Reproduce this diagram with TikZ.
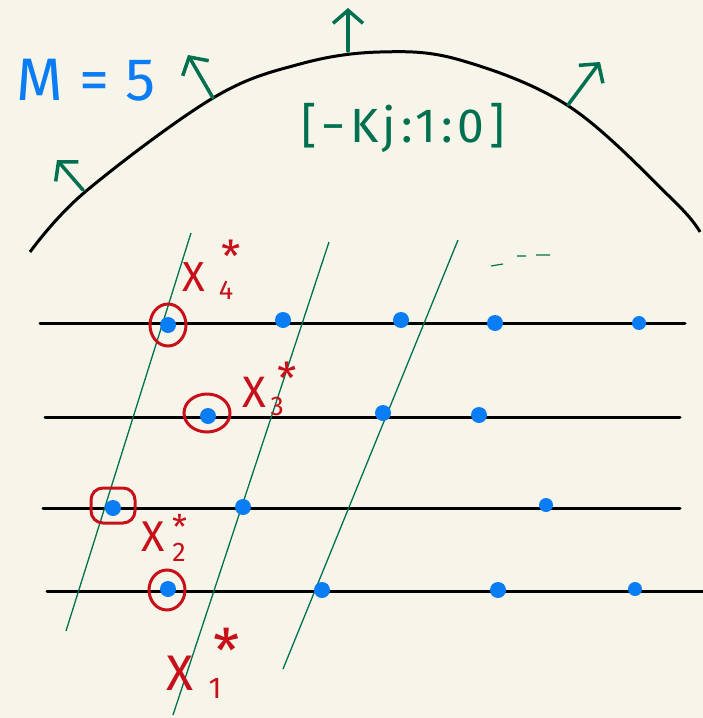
\documentclass[tikz,border=0pt]{standalone}
\usepackage{fontspec}
\setmainfont{Fira Sans}
\newfontfamily\spacedfont[LetterSpace=10]{Fira Sans}
\usetikzlibrary{arrows.meta}
\definecolor{bgc}{HTML}{F7F5E9}
\definecolor{pblue}{RGB}{10,125,245}
\definecolor{pgreen}{RGB}{0,112,80}
\definecolor{pred}{RGB}{200,16,26}
\tikzset{
  hline/.style={line width=3pt,black,line cap=round},
  gline/.style={line width=1.3pt,pgreen},
  normal/.style={line width=3.5pt,pgreen,line cap=round,-{Straight Barb[length=13pt,width=30pt,line width=3.5pt]}},
  pt/.style={circle,fill=pblue,inner sep=0pt,minimum size=16pt},
  ring/.style={draw=pred,line width=3pt},
  rtext/.style={text=pred,inner sep=0pt},
}
\begin{document}
\begin{tikzpicture}[x=1pt,y=-1pt]
\useasboundingbox (0,0) rectangle (703,718);
\fill[bgc] (0,0) rectangle (703,718);
% arc
\draw[line width=3pt] plot[smooth,tension=0.6] coordinates {(30,252) (85,192) (213,98) (300,64) (380,52) (460,60) (570,107) (673,200) (700,232)};
% normal arrows
\coordinate (a1s) at (83,190); \coordinate (a1e) at (57,160);
\coordinate (a2s) at (213,98); \coordinate (a2e) at (188,55);
\coordinate (a3s) at (348,51); \coordinate (a3e) at (348,8);
\coordinate (a4s) at (568,105); \coordinate (a4e) at (600,62);
\draw[normal] (a1s) -- (a1e);
\draw[normal] (a2s) -- (a2e);
\draw[normal] (a3s) -- (a3e);
\draw[normal] (a4s) -- (a4e);
% texts
\node[text=pblue,font=\fontsize{60}{64}\selectfont] (M) at (86,80) {M = 5};
\node[text=pgreen,font=\spacedfont\fontsize{48}{52}\selectfont] (sig) at (403,128) {[−Kj:1:0]};
% small dashes
\draw[pgreen,line width=1.2pt] (491,266) -- (503,264) (517,256) -- (526,256) (536,255) -- (550,255);
% horizontal lines
\coordinate (r1a) at (40,323); \coordinate (r1b) at (685,323);
\coordinate (r2a) at (45,417); \coordinate (r2b) at (680,417);
\coordinate (r3a) at (43,508); \coordinate (r3b) at (680,508);
\coordinate (r4a) at (47,591); \coordinate (r4b) at (703,591);
\draw[hline] (r1a) -- (r1b);
\draw[hline] (r2a) -- (r2b);
\draw[hline] (r3a) -- (r3b);
\draw[hline] (r4a) -- (r4b);
% green slanted lines
\coordinate (ga) at (191,233); \coordinate (gb) at (66,631);
\coordinate (gc) at (329,242); \coordinate (gd) at (173,715);
\coordinate (ge) at (458,240); \coordinate (gf) at (283,669);
\draw[gline] (ga) -- (gb);
\draw[gline] (gc) -- (gd);
\draw[gline] (ge) -- (gf);
% dots
\node[pt] (p11) at (168,325) {};
\node[pt] (p12) at (283,320) {};
\node[pt] (p13) at (401,320) {};
\node[pt] (p14) at (495,323) {};
\node[pt,minimum size=14pt] (p15) at (639,323) {};
\node[pt] (p21) at (208,416) {};
\node[pt] (p22) at (383,413) {};
\node[pt] (p23) at (479,415) {};
\node[pt] (p31) at (113,508) {};
\node[pt] (p32) at (243,507) {};
\node[pt,minimum size=14pt] (p33) at (546,505) {};
\node[pt] (p41) at (168,589) {};
\node[pt] (p42) at (322,590) {};
\node[pt] (p43) at (498,590) {};
\node[pt,minimum size=14pt] (p44) at (635,589) {};
% red rings
\draw[ring] (p11) ellipse [x radius=18pt,y radius=21pt];
\draw[ring] (p21.center) ++(-1,-3) ellipse [x radius=23pt,y radius=19pt];
\draw[ring,rounded corners=12pt] (91,488) rectangle (135,523);
\draw[ring] (p41.center) ++(-1,1) ellipse [x radius=18pt,y radius=20pt];
% labels x4*
\node[rtext,font=\fontsize{42}{44}\selectfont] (x4) at (194,277) {X};
\node[rtext,font=\fontsize{27}{29}\selectfont] (x4s) at (226,290) {4};
\node[rtext,font=\fontsize{44}{46}\selectfont] (x4t) at (231,256) {*};
% x3*
\node[rtext,font=\fontsize{44}{46}\selectfont] (x3) at (254,392) {X};
\node[rtext,font=\fontsize{27}{29}\selectfont] (x3s) at (277,406) {3};
\node[rtext,font=\fontsize{44}{46}\selectfont] (x3t) at (287,378) {*};
% x2*
\node[rtext,font=\fontsize{43}{45}\selectfont] (x2) at (153,537) {X};
\node[rtext,font=\fontsize{27}{29}\selectfont] (x2s) at (179,552) {2};
\node[rtext,font=\fontsize{34}{36}\selectfont] (x2t) at (180,527) {*};
% x1*
\node[rtext,font=\fontsize{50}{52}\selectfont] (x1) at (180,673) {X};
\node[rtext,font=\fontsize{30}{32}\selectfont] (x1s) at (215,688) {1};
\node[rtext,font=\fontsize{60}{62}\selectfont] (x1t) at (227,650) {*};
\end{tikzpicture}
\end{document}
